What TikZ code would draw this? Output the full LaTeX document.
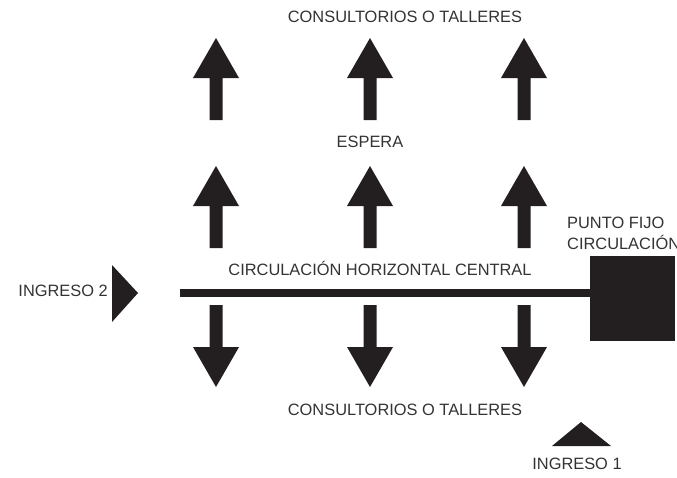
\documentclass[tikz,border=0pt]{standalone}
\usepackage{fontspec}
\setmainfont{Liberation Sans}
\definecolor{ink}{HTML}{231F20}
\definecolor{txt}{HTML}{333333}
\begin{document}
\begin{tikzpicture}[x=1pt,y=-1pt,
  lbl/.style={text=txt, font=\fontsize{16.4}{18}\selectfont, inner sep=0pt},
  bigarrow/.pic={\fill[ink] (0,0) -- (23,40) -- (6.5,40) -- (6.5,82) -- (-6.5,82) -- (-6.5,40) -- (-23,40) -- cycle;}]
\useasboundingbox (0,0) rectangle (677,477);
% labels
\node[lbl] (top) at (405,17) {CONSULTORIOS O TALLERES};
\node[lbl] (espera) at (370,142) {ESPERA};
\node[lbl] (circ) at (380,268) {CIRCULACIÓN HORIZONTAL CENTRAL};
\node[lbl] (bot) at (405,410) {CONSULTORIOS O TALLERES};
\node[lbl,anchor=east] (ing2) at (108,291) {INGRESO 2};
\node[lbl,anchor=west] (pf1) at (567,223) {PUNTO FIJO};
\node[lbl,anchor=west] (pf2) at (567,242) {CIRCULACIÓN};
\node[lbl] (ing1) at (577,464) {INGRESO 1};
% arrows
\foreach \x in {216,370,524} {
  \pic at (\x,38) {bigarrow};
  \pic at (\x,166) {bigarrow};
  \pic[rotate=180] at (\x,387) {bigarrow};
}
% stair core
\node[fill=ink, minimum width=85pt, minimum height=85pt, inner sep=0pt] (fijo) at (632.5,298.5) {};
\coordinate (start) at (180,293);
\draw[ink, line width=8pt] (start) -- (start -| fijo.west);
% entrances
\fill[ink] (112,265) -- (138,293) -- (112,322) -- cycle;
\fill[ink] (552,446) -- (581,422) -- (611,446) -- cycle;
\end{tikzpicture}
\end{document}
